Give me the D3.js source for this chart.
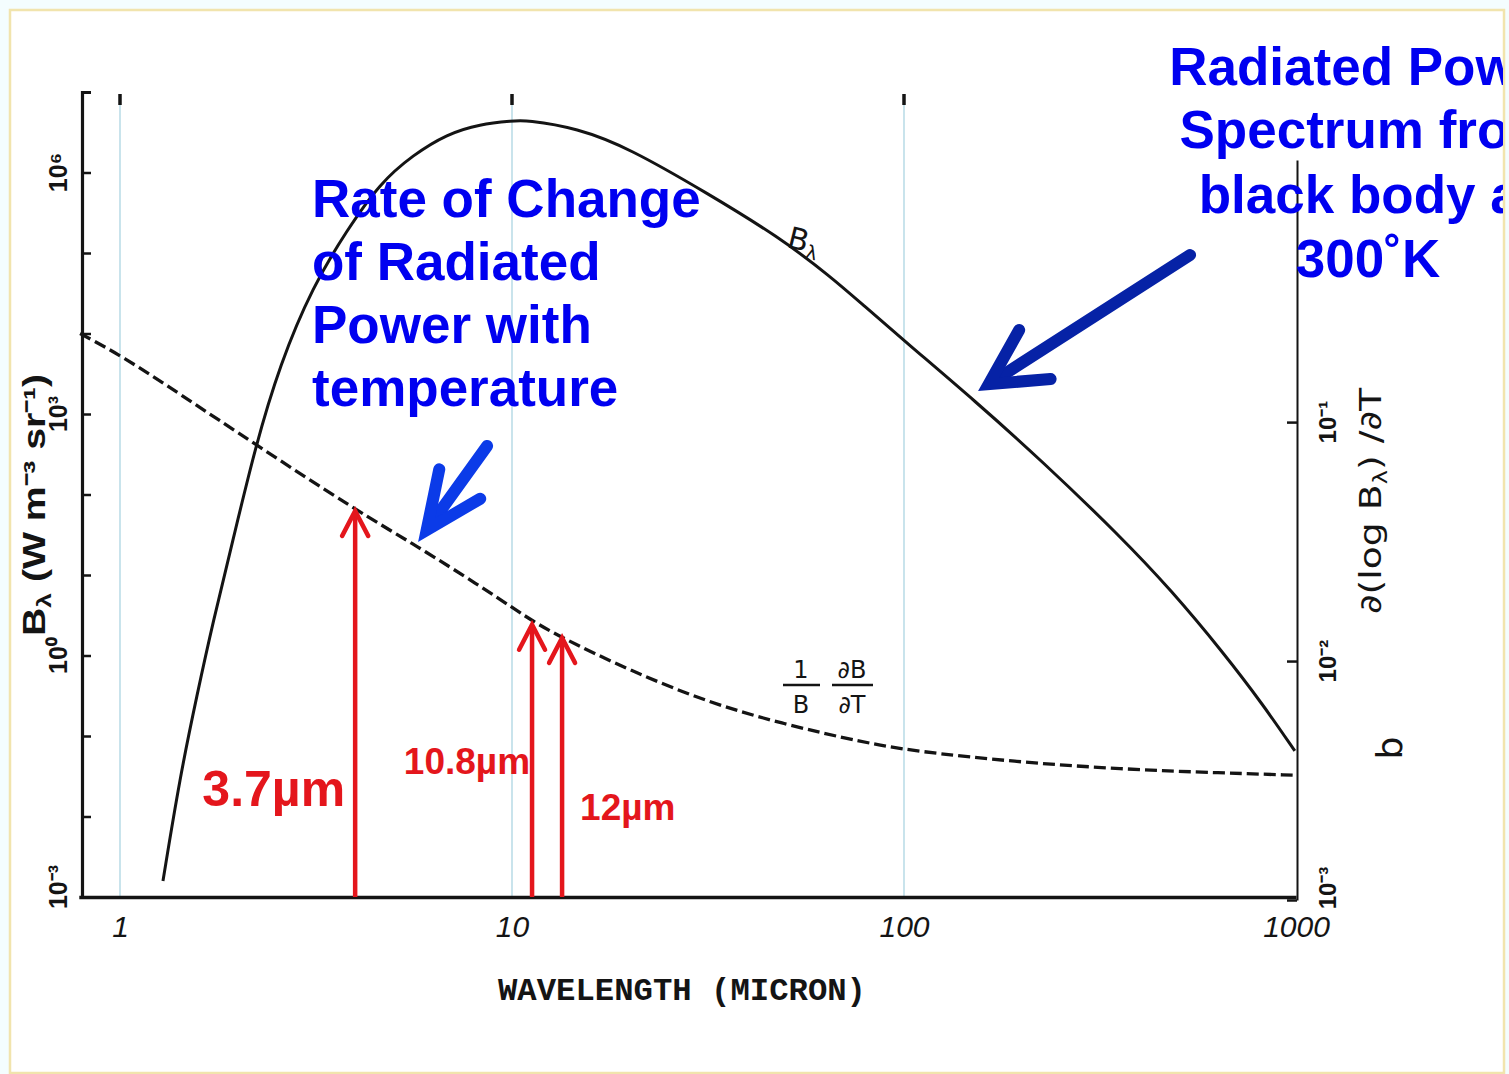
<!DOCTYPE html>
<html><head><meta charset="utf-8">
<script src="https://cdn.jsdelivr.net/npm/d3@7"></script>
<style>html,body{margin:0;padding:0;background:#f4fdfe;} svg{display:block}</style>
</head><body><svg id="c" width="1509" height="1074"></svg>
<script>
// ---------- data ----------
const xTickValues = [1, 10, 100, 1000];
const xTickLabels = ["1", "10", "100", "1000"];
const leftTickValues = [1e-3, 1e0, 1e3, 1e6];
const leftTickLabels = ["10⁻³", "10⁰", "10³", "10⁶"];
const rightTickValues = [1e-3, 1e-2, 1e-1];
const rightTickLabels = ["10⁻³", "10⁻²", "10⁻¹"];

// B_lambda (W m^-3 sr^-1), left axis
const planckWavelength = [1.287, 1.422, 1.572, 1.727, 1.942, 2.21, 2.559, 3.107, 3.794, 4.606, 5.59, 6.828, 8.286, 10.06, 10.86, 14.65, 19.89, 31.44, 47.99, 65.14, 78.16, 102.4, 151.8, 224.9, 355.6, 479.9, 651.2, 828.6, 993];
const planckValues = [1.58e-3, 0.0309, 0.324, 2.61, 27.2, 378, 4180, 38900, 1.93e5, 7.41e5, 1.65e6, 3.01e6, 4.0e6, 4.37e6, 4.49e6, 3.57e6, 2.01e6, 5.56e5, 1.58e5, 5.03e4, 2.32e4, 7410, 1450, 261, 30.5, 6.52, 1.10, 0.236, 0.0652];

// (1/B) dB/dT, right axis
const rateWavelength = [0.791, 1.012, 1.422, 2.21, 4.024, 5.722, 8.286, 10.06, 11.18, 13.42, 19.89, 31.44, 49.4, 78.16, 105.4, 194, 355.6, 651, 993];
const rateValues = [0.235, 0.189, 0.131, 0.0809, 0.0425, 0.0303, 0.0206, 0.01667, 0.01485, 0.01249, 0.00917, 0.00673, 0.00544, 0.00458, 0.00420, 0.00378, 0.00353, 0.00340, 0.00333];

// channel arrows
const channelLabels = ["3.7µm", "10.8µm", "12µm"];
const channelWavelength = [3.98, 11.25, 13.42];
const channelTip = [0.0425, 0.0142, 0.0125];

const noteLeftLines = ["Rate of Change", "of Radiated", "Power with", "temperature"];
const noteRightLines = ["Radiated Power", "Spectrum from", "black body at", "300˚K"];
const noteLeftTip = {wavelength: 5.76, value: 0.0315};
const noteRightTip = {wavelength: 154.5, value: 1930};

// ---------- drawing ----------
const svg = d3.select("#c");
const W = 1509, H = 1074;

svg.append("defs").append("clipPath").attr("id", "frameClip")
  .append("rect").attr("x", 0).attr("y", 0).attr("width", 1503).attr("height", H);

svg.append("rect").attr("x", 10).attr("y", 10).attr("width", 1494).attr("height", 1063)
  .attr("fill", "#ffffff").attr("stroke", "#f1e4ad").attr("stroke-width", 2.5);

const x = d3.scaleLog().domain([1, 1000]).range([120, 1296]);
const yL = d3.scaleLog().domain([1e-3, 1e7]).range([897, 92]);
const yR = d3.scaleLog().domain([1e-3, 1.25]).range([900, 160]);

const ink = "#141414";
const g = svg.append("g").attr("clip-path", "url(#frameClip)");

// grid lines (light blue)
g.selectAll("line.grid").data(xTickValues.slice(0, 3)).join("line")
  .attr("class", "grid")
  .attr("x1", d => x(d)).attr("x2", d => x(d))
  .attr("y1", 95).attr("y2", 897)
  .attr("stroke", "#bcdde8").attr("stroke-width", 1.6);

// top tick marks
g.selectAll("line.topt").data(xTickValues.slice(0, 3)).join("line")
  .attr("class", "topt")
  .attr("x1", d => x(d)).attr("x2", d => x(d))
  .attr("y1", 94).attr("y2", 105)
  .attr("stroke", ink).attr("stroke-width", 3.5);

// left axis
const leftAxis = d3.axisRight(yL)
  .tickValues(d3.range(-3, 7).map(e => Math.pow(10, e)))
  .tickSize(9).tickSizeOuter(9).tickFormat("");
const la = g.append("g").attr("transform", "translate(82,0)").call(leftAxis);
la.select(".domain").attr("stroke", ink).attr("stroke-width", 3.2);
la.selectAll(".tick line").attr("stroke", ink).attr("stroke-width", 2.5);

// right axis
const rightAxis = d3.axisLeft(yR).tickValues(rightTickValues)
  .tickSize(10).tickSizeOuter(0).tickFormat("");
const ra = g.append("g").attr("transform", "translate(1297,0)").call(rightAxis);
ra.select(".domain").attr("stroke", ink).attr("stroke-width", 2);
ra.selectAll(".tick line").attr("stroke", ink).attr("stroke-width", 2.5);

// bottom axis
const xAxisScale = x.copy().domain([0.785, 1000]).range([x(0.785), 1296]);
const bottomAxis = d3.axisBottom(xAxisScale).tickValues(xTickValues)
  .tickSize(0).tickSizeOuter(0).tickPadding(19)
  .tickFormat(d => xTickLabels[xTickValues.indexOf(d)]);
const ba = g.append("g").attr("transform", "translate(0,897)").call(bottomAxis);
ba.select(".domain").attr("stroke", ink).attr("stroke-width", 3.6);
ba.selectAll(".tick text").attr("fill", ink)
  .style("font-family", "'Liberation Sans', Arial, sans-serif")
  .style("font-size", "30px").style("font-style", "italic");

// left tick labels (rotated)
g.selectAll("text.ltl").data(leftTickValues).join("text")
  .attr("class", "ltl")
  .attr("transform", d => `translate(67,${yL(d) - (d === 1e-3 ? 10 : 0)}) rotate(-90)`)
  .attr("text-anchor", "middle").attr("fill", ink)
  .style("font-family", "'Liberation Sans', Arial, sans-serif")
  .style("font-weight", "bold").style("font-size", "25px")
  .text((d, i) => leftTickLabels[i]);

// right tick labels (rotated)
g.selectAll("text.rtl").data(rightTickValues).join("text")
  .attr("class", "rtl")
  .attr("transform", d => `translate(1336,${yR(d) - (d === 1e-3 ? 12 : 0)}) rotate(-90)`)
  .attr("text-anchor", "middle").attr("fill", ink)
  .style("font-family", "'Liberation Sans', Arial, sans-serif")
  .style("font-weight", "bold").style("font-size", "24px")
  .text((d, i) => rightTickLabels[i]);

// axis titles
const lt = g.append("text")
  .attr("transform", "translate(45,505) rotate(-90)")
  .attr("text-anchor", "middle").attr("fill", ink)
  .attr("textLength", 262).attr("lengthAdjust", "spacingAndGlyphs")
  .style("font-family", "'Liberation Sans', Arial, sans-serif")
  .style("font-weight", "bold").style("font-size", "31px");
lt.append("tspan").text("B");
lt.append("tspan").attr("font-size", "21px").attr("dy", 6).text("λ");
lt.append("tspan").attr("dy", -6).text(" (W m⁻³ sr⁻¹)");

const rt = g.append("text")
  .attr("transform", "translate(1381,501) rotate(-90)")
  .attr("text-anchor", "middle").attr("fill", ink)
  .attr("textLength", 226).attr("lengthAdjust", "spacingAndGlyphs")
  .style("font-family", "'DejaVu Sans', sans-serif")
  .style("font-size", "30px");
rt.append("tspan").text("∂(log B");
rt.append("tspan").attr("font-size", "19px").attr("dy", 6).text("λ");
rt.append("tspan").attr("dy", -6).text(") /∂T");

g.append("text")
  .attr("transform", "translate(1402,748) rotate(-90)")
  .attr("text-anchor", "middle").attr("fill", ink)
  .style("font-family", "'DejaVu Sans', sans-serif")
  .style("font-size", "36px").text("b");

g.append("text").attr("x", 682).attr("y", 1000)
  .attr("text-anchor", "middle").attr("fill", ink)
  .attr("textLength", 368).attr("lengthAdjust", "spacingAndGlyphs")
  .style("font-family", "'Liberation Mono', 'DejaVu Sans Mono', monospace")
  .style("font-weight", "bold").style("font-size", "31px")
  .text("WAVELENGTH (MICRON)");

// curves
const planck = planckWavelength.map((w, i) => [w, planckValues[i]]);
const rate = rateWavelength.map((w, i) => [w, rateValues[i]]);

g.append("path").datum(planck)
  .attr("d", d3.line().x(d => x(d[0])).y(d => yL(d[1])).curve(d3.curveBasis))
  .attr("fill", "none").attr("stroke", ink).attr("stroke-width", 3);

g.append("path").datum(rate)
  .attr("d", d3.line().x(d => x(d[0])).y(d => yR(d[1])).curve(d3.curveBasis))
  .attr("fill", "none").attr("stroke", ink).attr("stroke-width", 3.3)
  .attr("stroke-dasharray", "12,5");

// curve labels
const bl = g.append("text")
  .attr("transform", "translate(786,247) rotate(14)")
  .attr("fill", ink)
  .style("font-family", "'DejaVu Sans', sans-serif").style("font-size", "30px");
bl.append("tspan").text("B");
bl.append("tspan").attr("font-size", "19px").attr("dy", 6).text("λ");

const frac = g.append("g").attr("fill", ink)
  .style("font-family", "'DejaVu Sans', sans-serif").style("font-size", "24px");
[[801, "1", "B", 783, 820], [852, "∂B", "∂T", 832, 873]].forEach(([cx, num, den, x1, x2]) => {
  frac.append("text").attr("x", cx).attr("y", 678).attr("text-anchor", "middle").text(num);
  frac.append("line").attr("x1", x1).attr("x2", x2).attr("y1", 685).attr("y2", 685)
    .attr("stroke", ink).attr("stroke-width", 2.6);
  frac.append("text").attr("x", cx).attr("y", 713).attr("text-anchor", "middle").text(den);
});

// red channel arrows
const red = "#e4161c";
channelWavelength.forEach((w, i) => {
  const cx = x(w), ty = yR(channelTip[i]);
  g.append("line").attr("x1", cx).attr("x2", cx).attr("y1", 897).attr("y2", ty + 2)
    .attr("stroke", red).attr("stroke-width", 4.5);
  g.append("path").attr("d", `M${cx - 13},${ty + 25}L${cx},${ty}L${cx + 13},${ty + 25}`)
    .attr("fill", "none").attr("stroke", red).attr("stroke-width", 4.5)
    .attr("stroke-linejoin", "miter").attr("stroke-linecap", "round");
});
const redText = [
  {x: x(channelWavelength[0]) - 10, y: 806, anchor: "end", size: 50},
  {x: x(channelWavelength[1]) - 2, y: 774, anchor: "end", size: 37},
  {x: x(channelWavelength[2]) + 18, y: 820, anchor: "start", size: 37}
];
redText.forEach((t, i) => {
  g.append("text").attr("x", t.x).attr("y", t.y).attr("text-anchor", t.anchor)
    .attr("fill", red)
    .style("font-family", "'Liberation Sans', Arial, sans-serif")
    .style("font-weight", "bold").style("font-size", t.size + "px")
    .text(channelLabels[i]);
});

// blue notes
const blue = "#0000f0";
noteLeftLines.forEach((s, i) => {
  g.append("text").attr("x", 312).attr("y", 217 + i * 63).attr("fill", blue)
    .style("font-family", "'Liberation Sans', Arial, sans-serif")
    .style("font-weight", "bold").style("font-size", "53px").text(s);
});
[85, 148, 213, 277].forEach((by, i) => {
  g.append("text").attr("x", 1368).attr("y", by).attr("text-anchor", "middle").attr("fill", blue)
    .style("font-family", "'Liberation Sans', Arial, sans-serif")
    .style("font-weight", "bold").style("font-size", "53px").text(noteRightLines[i]);
});

function drawArrow(tip, offset, color, sw, wing, angleDeg) {
  const L = Math.hypot(offset[0], offset[1]);
  const ux = offset[0] / L, uy = offset[1] / L;
  const a = angleDeg * Math.PI / 180;
  const back = sw / 2 / Math.sin(a);
  const vx = tip[0] + ux * back, vy = tip[1] + uy * back;
  const rot = s => [ux * Math.cos(s) - uy * Math.sin(s), ux * Math.sin(s) + uy * Math.cos(s)];
  const r1 = rot(a), r2 = rot(-a);
  g.append("line").attr("x1", tip[0] + offset[0]).attr("y1", tip[1] + offset[1])
    .attr("x2", vx + ux * 4).attr("y2", vy + uy * 4)
    .attr("stroke", color).attr("stroke-width", sw).attr("stroke-linecap", "round");
  g.append("path")
    .attr("d", `M${vx + r1[0] * wing},${vy + r1[1] * wing}L${vx},${vy}L${vx + r2[0] * wing},${vy + r2[1] * wing}`)
    .attr("fill", "none").attr("stroke", color).attr("stroke-width", sw)
    .attr("stroke-linejoin", "miter").attr("stroke-miterlimit", 10).attr("stroke-linecap", "round");
}
drawArrow([x(noteLeftTip.wavelength), yR(noteLeftTip.value)], [69, -96], "#0b3be8", 12, 62, 24);
drawArrow([x(noteRightTip.wavelength), yL(noteRightTip.value)], [212, -136], "#0622a6", 12, 62, 28);
</script></body></html>
